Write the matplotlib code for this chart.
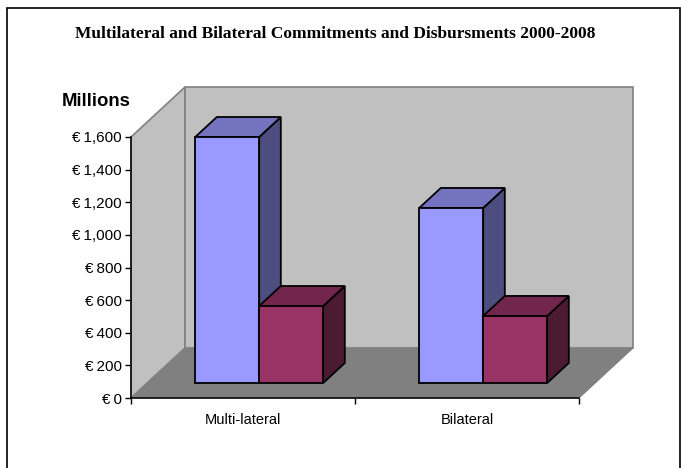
import matplotlib
matplotlib.use('Agg')
import matplotlib.pyplot as plt
from matplotlib.patches import Polygon, Rectangle

categories = ['Multi-lateral', 'Bilateral']
commitments = [1508, 1073]
disbursements = [472, 411]
tick_values = [0, 200, 400, 600, 800, 1000, 1200, 1400, 1600]
tick_labels = ['€\u20090', '€\u2009200', '€\u2009400', '€\u2009600', '€\u2009800',
               '€\u20091,000', '€\u20091,200', '€\u20091,400', '€\u20091,600']

W, H = 681, 468
X0, X1 = 131, 579
Y0, Y1 = 398, 137
DEPTH_X = 54.0 / (X1 - X0) * 2      # depth offset, in category units
DEPTH_Y = 50.0 / (Y0 - Y1) * 1600   # depth offset, in value units
GAP = 1.5

fig = plt.figure(figsize=(W / 100, H / 100), dpi=100)
# outer frame, its bottom edge falls off the image
fig.add_artist(Rectangle((7 / W, -0.05), 672.5 / W, 1.05 - 8.5 / H, transform=fig.transFigure,
                         fc='none', ec='black', lw=1.2))
ax = fig.add_axes([X0 / W, 1 - Y0 / H, (X1 - X0) / W, (Y0 - Y1) / H])
ax.set_xlim(0, 2)
ax.set_ylim(0, 1600)
ax.patch.set_visible(False)


def proj(x, v, d):
    return (x + d * DEPTH_X, v + d * DEPTH_Y)


def face(pts, color, edge='black', lw=1.3, z=2):
    ax.add_patch(Polygon([proj(*p) for p in pts], closed=True, fc=color, ec=edge, lw=lw,
                         joinstyle='miter', clip_on=False, zorder=z))


# walls and floor
face([(0, 0, 0), (0, 0, 1), (0, 1600, 1), (0, 1600, 0)], '#c0c0c0', '#808080', 1.2, 1)
face([(0, 0, 1), (2, 0, 1), (2, 1600, 1), (0, 1600, 1)], '#c0c0c0', '#808080', 1.2, 1)
face([(0, 0, 0), (2, 0, 0), (2, 0, 1), (0, 0, 1)], '#808080', '#808080', 0.8, 1)


def bar3d(x, w, v, front, top, side, z):
    d0, d1 = 0.3, 0.7
    face([(x + w, 0, d0), (x + w, 0, d1), (x + w, v, d1), (x + w, v, d0)], side, z=z)
    face([(x, v, d0), (x + w, v, d0), (x + w, v, d1), (x, v, d1)], top, z=z)
    face([(x, 0, d0), (x + w, 0, d0), (x + w, v, d0), (x, v, d0)], front, z=z)


bar_w = 1 / (2 + GAP)
for i in range(len(categories)):
    x = i + GAP * bar_w / 2
    bar3d(x, bar_w, commitments[i], '#9999ff', '#7373bf', '#4d4d80', 3 + i * 2)
    bar3d(x + bar_w, bar_w, disbursements[i], '#993366', '#73264d', '#4d1a33', 4 + i * 2)

for s in ['top', 'right']:
    ax.spines[s].set_visible(False)
for s in ['left', 'bottom']:
    ax.spines[s].set_linewidth(1.1)
    ax.spines[s].set_zorder(10)

font = 'Liberation Sans'
ax.set_yticks(tick_values)
ax.set_yticklabels(tick_labels, family=font, fontsize=11, color='black')
ax.set_xticks([0, 1, 2])
ax.set_xticklabels([])
ax.set_xticks([0.5, 1.5], categories, minor=True, family=font, fontsize=10.5, color='black')
ax.tick_params(axis='x', which='minor', length=0, pad=11)
ax.tick_params(axis='x', which='major', length=4, width=1)
ax.tick_params(axis='y', length=4, width=1, pad=2.5)

fig.text(335.5 / W, 1 - 34 / H, 'Multilateral and Bilateral Commitments and Disbursments 2000-2008',
         family='Liberation Serif', weight='bold', fontsize=12.5, ha='center', va='center')
fig.text(96 / W, 1 - 101 / H, 'Millions', family=font, weight='bold', fontsize=13.4,
         ha='center', va='center', color='black')

fig.savefig('out.png', dpi=100)
